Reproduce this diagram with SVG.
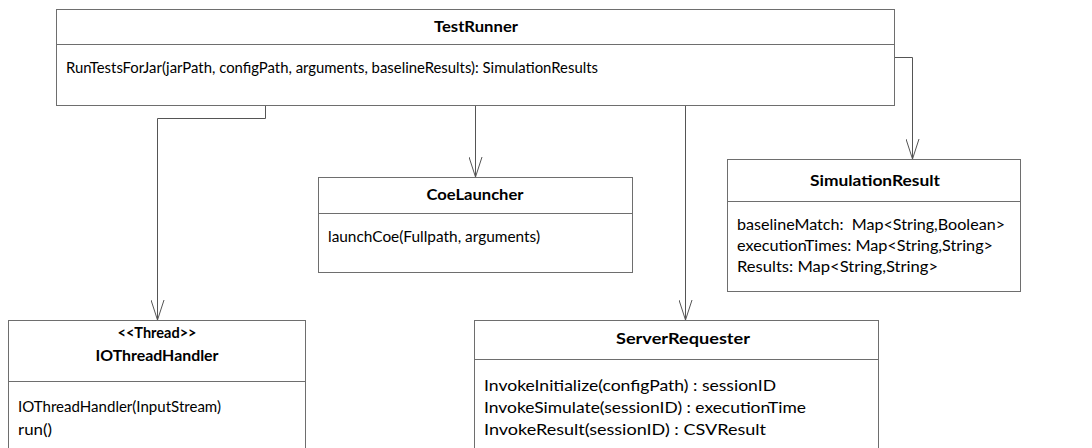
<svg xmlns="http://www.w3.org/2000/svg" width="1092" height="448" viewBox="0 0 1092 448">
<style>
.box{fill:#fff;stroke:#6e6e6e;stroke-width:1}
.sep{stroke:#6e6e6e;stroke-width:1}
.t{font-family:Lato,"Open Sans","Liberation Sans",sans-serif;font-size:16px;fill:#000}
.b{font-weight:bold;text-anchor:middle}
.c{fill:none;stroke:#555;stroke-width:1}
</style>
<defs>
<marker id="arr" markerUnits="userSpaceOnUse" markerWidth="22" markerHeight="14" viewBox="0 0 22 14" refX="20" refY="7" orient="auto">
<path d="M0,0.5 L20,7 L0,13.5" fill="none" stroke="#555" stroke-width="1"/>
</marker>
</defs>
<rect width="1092" height="448" fill="#fff"/>
<g id="connectors">
<polyline class="c" points="265.5,105 265.5,118.5 157.5,118.5 157.5,320" marker-end="url(#arr)"/>
<polyline class="c" points="475.5,105 475.5,177" marker-end="url(#arr)"/>
<polyline class="c" points="685.5,105 685.5,320" marker-end="url(#arr)"/>
<polyline class="c" points="894,57.5 912.5,57.5 912.5,159" marker-end="url(#arr)"/>
</g>
<g id="TestRunner">
<rect class="box" x="56.5" y="9.5" width="838" height="96"/>
<line class="sep" x1="56.5" y1="44.5" x2="894.5" y2="44.5"/>
<text class="t b" x="476" y="32" textLength="84" lengthAdjust="spacingAndGlyphs">TestRunner</text>
<text class="t" x="66" y="73" textLength="532" lengthAdjust="spacingAndGlyphs">RunTestsForJar(jarPath, configPath, arguments, baselineResults): SimulationResults</text>
</g>
<g id="CoeLauncher">
<rect class="box" x="318.5" y="177.5" width="314" height="95"/>
<line class="sep" x1="318.5" y1="213.5" x2="632.5" y2="213.5"/>
<text class="t b" x="475" y="200" textLength="97" lengthAdjust="spacingAndGlyphs">CoeLauncher</text>
<text class="t" x="328" y="242" textLength="212" lengthAdjust="spacingAndGlyphs">launchCoe(Fullpath, arguments)</text>
</g>
<g id="SimulationResult">
<rect class="box" x="727.5" y="159.5" width="293" height="132"/>
<line class="sep" x1="727.5" y1="201.5" x2="1020.5" y2="201.5"/>
<text class="t b" x="875" y="186" textLength="130" lengthAdjust="spacingAndGlyphs">SimulationResult</text>
<text class="t" x="737" y="230" textLength="268" lengthAdjust="spacingAndGlyphs" xml:space="preserve">baselineMatch:  Map&lt;String,Boolean&gt;</text>
<text class="t" x="737" y="251" textLength="256" lengthAdjust="spacingAndGlyphs">executionTimes: Map&lt;String,String&gt;</text>
<text class="t" x="737" y="272" textLength="201" lengthAdjust="spacingAndGlyphs">Results: Map&lt;String,String&gt;</text>
</g>
<g id="IOThreadHandler">
<rect class="box" x="8.5" y="320.5" width="297" height="140"/>
<line class="sep" x1="8.5" y1="381.5" x2="305.5" y2="381.5"/>
<text class="t b" x="157" y="338" textLength="79" lengthAdjust="spacingAndGlyphs">&lt;&lt;Thread&gt;&gt;</text>
<text class="t b" x="157" y="361" textLength="123" lengthAdjust="spacingAndGlyphs">IOThreadHandler</text>
<text class="t" x="18" y="412" textLength="203" lengthAdjust="spacingAndGlyphs">IOThreadHandler(InputStream)</text>
<text class="t" x="18" y="435" textLength="34" lengthAdjust="spacingAndGlyphs">run()</text>
</g>
<g id="ServerRequester">
<rect class="box" x="474.5" y="320.5" width="404" height="140"/>
<line class="sep" x1="474.5" y1="359.5" x2="878.5" y2="359.5"/>
<text class="t b" x="683" y="344" textLength="134" lengthAdjust="spacingAndGlyphs">ServerRequester</text>
<text class="t" x="484" y="391" textLength="292" lengthAdjust="spacingAndGlyphs">InvokeInitialize(configPath) : sessionID</text>
<text class="t" x="484" y="413" textLength="322" lengthAdjust="spacingAndGlyphs">InvokeSimulate(sessionID) : executionTime</text>
<text class="t" x="484" y="435" textLength="282" lengthAdjust="spacingAndGlyphs">InvokeResult(sessionID) : CSVResult</text>
</g>
</svg>
